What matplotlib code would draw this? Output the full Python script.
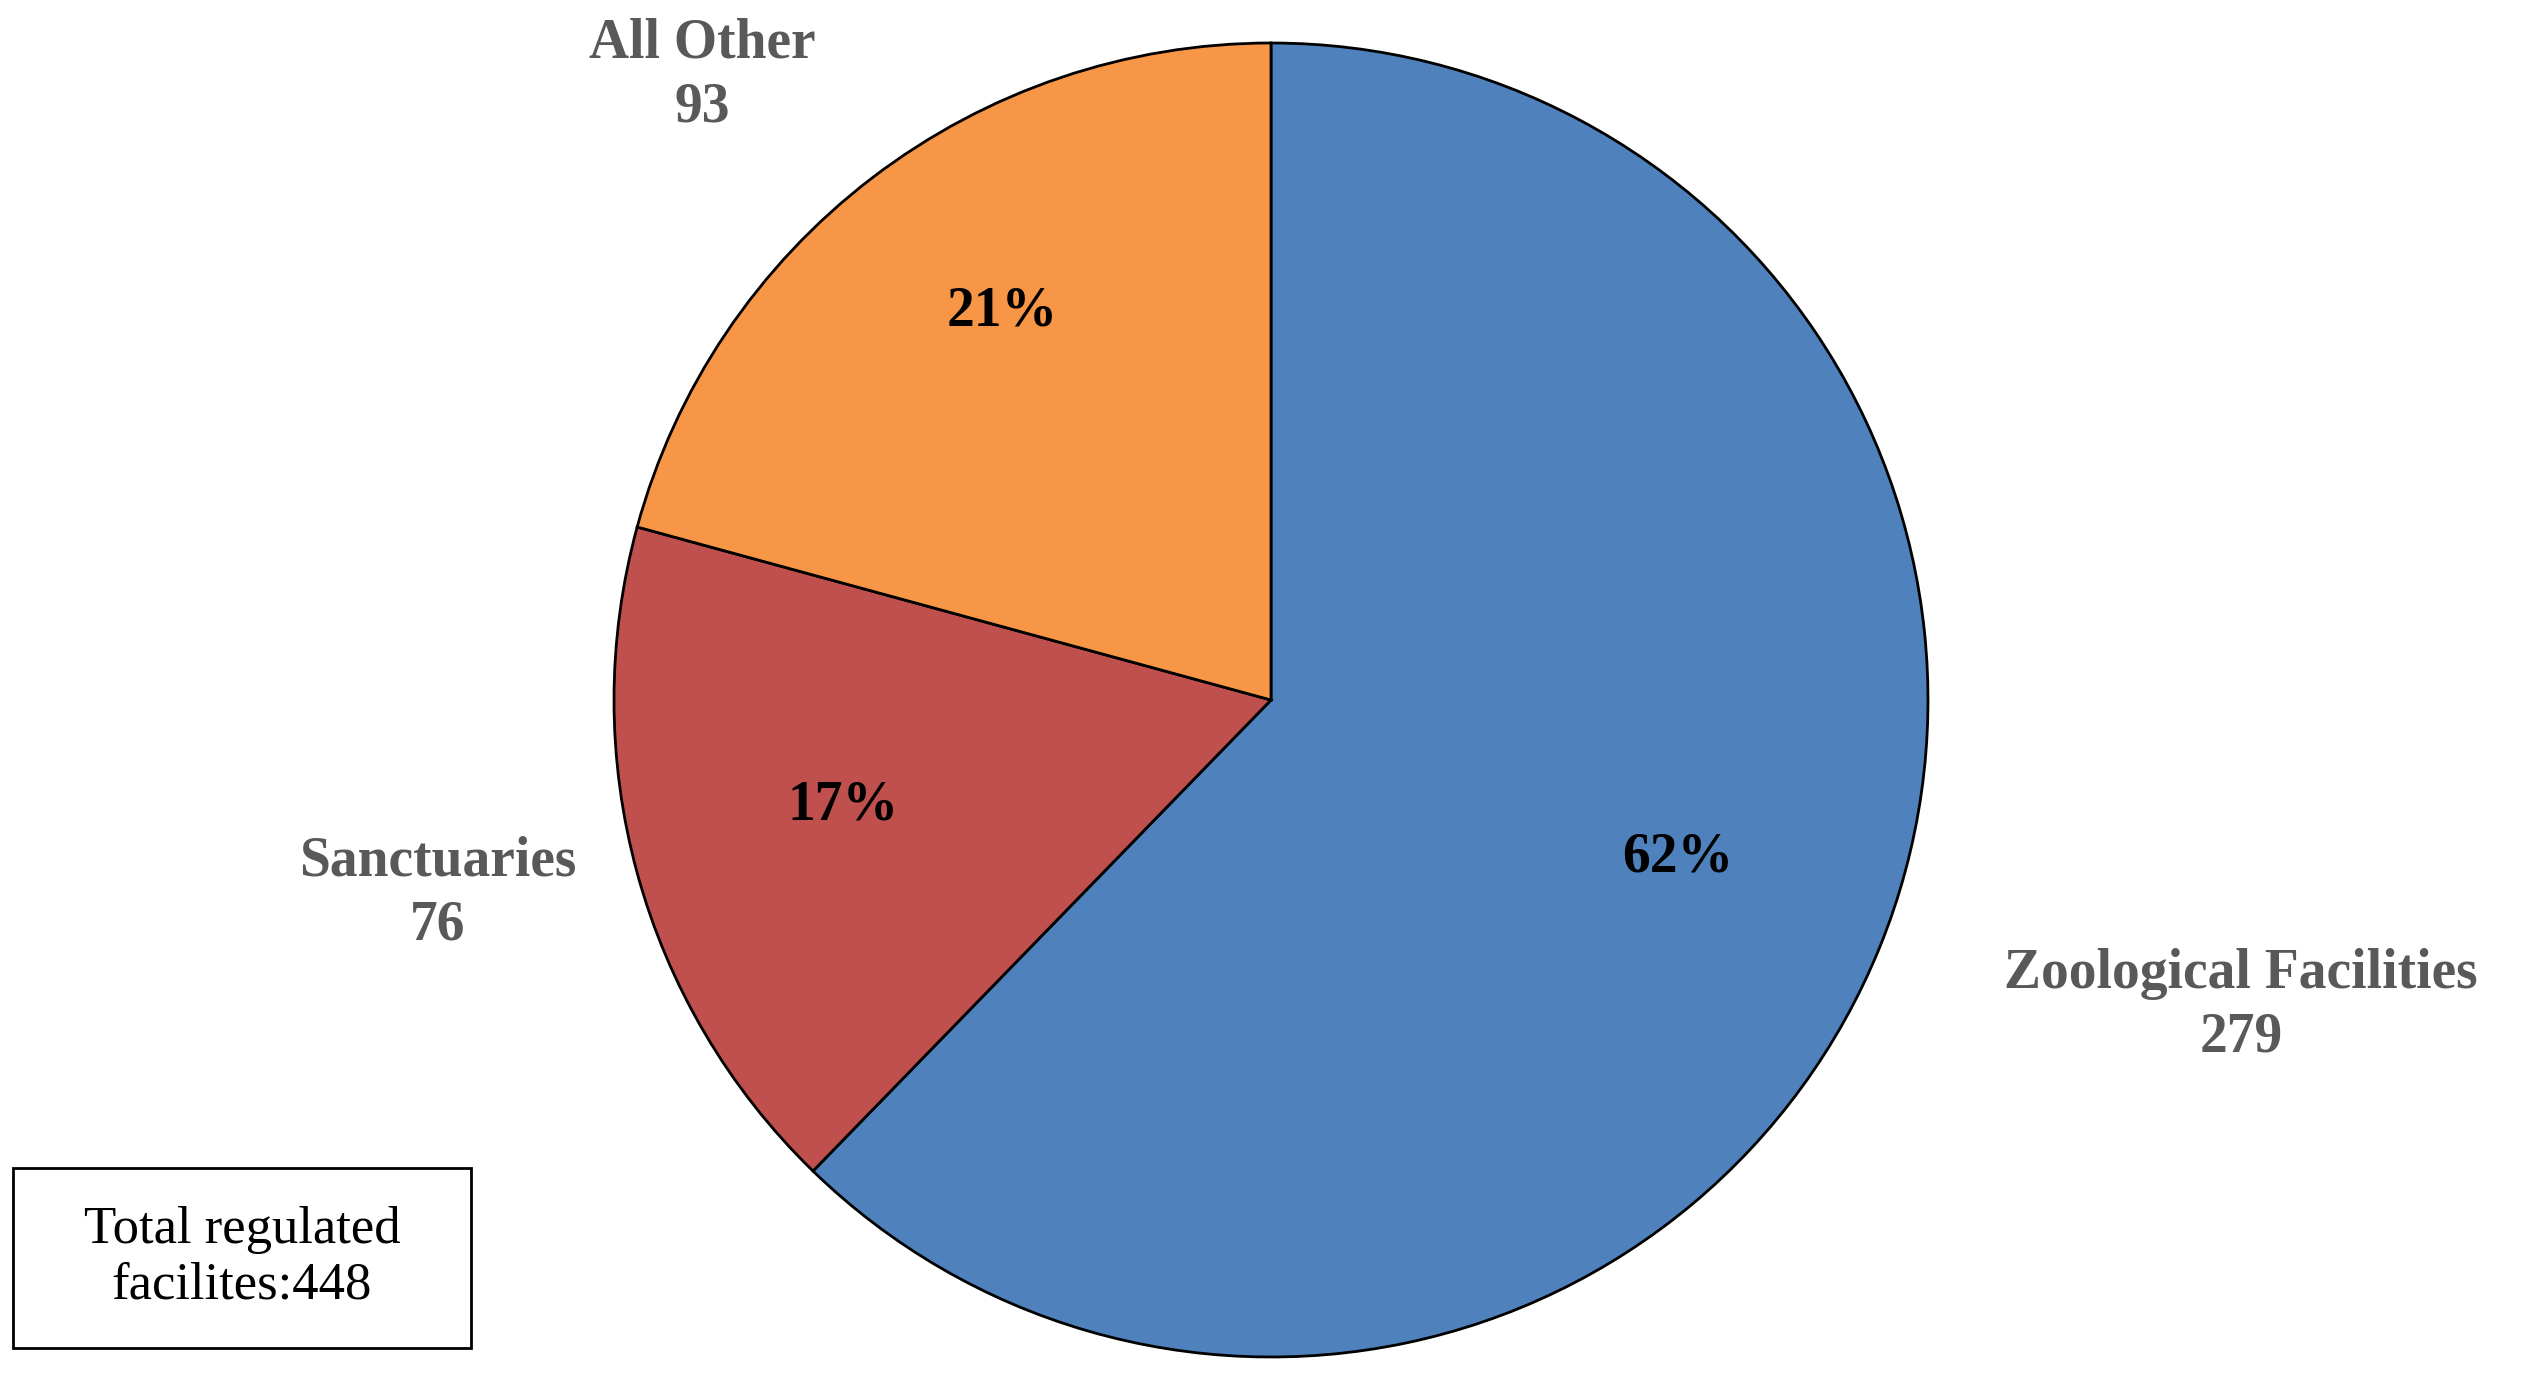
import matplotlib
matplotlib.use("Agg")
import matplotlib.pyplot as plt
from matplotlib.patches import Rectangle

categories = ["Zoological Facilities", "Sanctuaries", "All Other"]
counts = [279, 76, 93]
percents = ["62%", "17%", "21%"]
colors = ["#4F81BD", "#C0504D", "#F79646"]
total_text = "Total regulated\nfacilites:448"

W, H = 2523, 1373
fig = plt.figure(figsize=(W/100, H/100), dpi=100)
ax = fig.add_axes([0, 0, 1, 1])

cx, cy, r = 1271, 700, 657
ax.pie(counts, colors=colors, startangle=-90, counterclock=True,
       center=(cx, cy), radius=r, frame=True,
       wedgeprops=dict(edgecolor="black", linewidth=2))
ax.set_xlim(0, W)
ax.set_ylim(H, 0)
ax.set_aspect("equal")
ax.axis("off")

font = "Liberation Serif"
pct_pos = [(1678, 858), (843, 805), (1002, 311)]
lab_pos = [(2241, 1006), (438, 893), (702, 76)]
for (x, y), p in zip(pct_pos, percents):
    ax.text(x, y, p, ha="center", va="center", fontsize=40, fontweight="bold",
            family=font, color="black")
for (x, y), c, n in zip(lab_pos, categories, counts):
    ax.text(x, y, f"{c}\n{n}", ha="center", va="center", fontsize=40,
            fontweight="bold", family=font, color="#595959", linespacing=1.3)

ax.add_patch(Rectangle((13, 1168), 458, 180, fill=False, edgecolor="black", linewidth=2))
ax.text(242, 1258, total_text, ha="center", va="center", fontsize=38,
        family=font, color="black", linespacing=1.2)

fig.savefig("out.png", dpi=100, facecolor="white")
